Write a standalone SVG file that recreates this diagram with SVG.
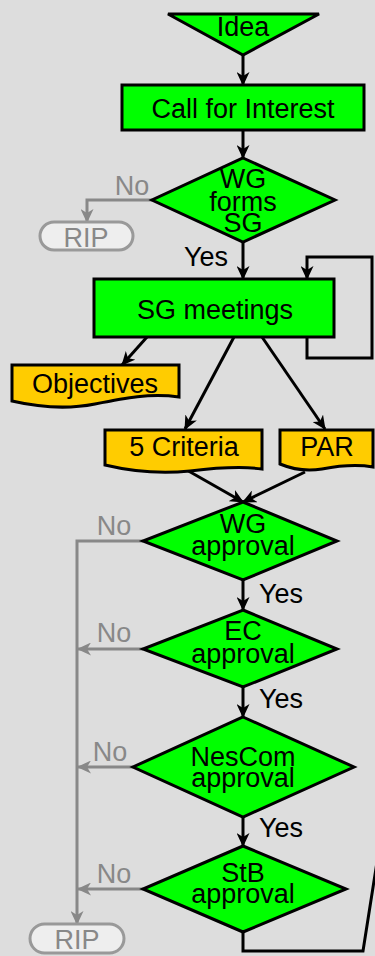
<svg xmlns="http://www.w3.org/2000/svg" width="375" height="956" viewBox="0 0 375 956">
<style>
text{font-family:"Liberation Sans",Arial,sans-serif;font-size:27px;text-anchor:middle;fill:#000}
.n{fill:#00ff00;stroke:#000;stroke-width:3}
.d{fill:#ffcc00;stroke:#000;stroke-width:3}
.c{fill:none;stroke:#000;stroke-width:3}
.g{fill:none;stroke:#888;stroke-width:3}
.gt{fill:#888}
.rip{fill:#eeeeee;stroke:#999;stroke-width:3}
</style>
<defs>
<marker id="a" markerUnits="userSpaceOnUse" markerWidth="14" markerHeight="13" viewBox="0 0 14 13" refX="13" refY="6.5" orient="auto"><path d="M0,0 L14,6.5 L0,13 L4,6.5 z" fill="#000"/></marker>
<marker id="ag" markerUnits="userSpaceOnUse" markerWidth="14" markerHeight="13" viewBox="0 0 14 13" refX="13" refY="6.5" orient="auto"><path d="M0,0 L14,6.5 L0,13 L4,6.5 z" fill="#888"/></marker>
</defs>
<rect width="375" height="956" fill="#dddddd"/>
<g id="connectors">
<path class="c" d="M243,55 V85" marker-end="url(#a)"/>
<path class="c" d="M243,130 V158" marker-end="url(#a)"/>
<path class="g" d="M152,200 H87 V222" marker-end="url(#ag)"/>
<text class="gt" x="132" y="195">No</text>
<path class="c" d="M243,242 V279" marker-end="url(#a)"/>
<text x="206" y="266">Yes</text>
<path class="c" d="M307,337 V358 H372 V257 H307 V279" marker-end="url(#a)"/>
<path class="c" d="M147,337 L122,365" marker-end="url(#a)"/>
<path class="c" d="M234,337 L185,429" marker-end="url(#a)"/>
<path class="c" d="M262,337 L325,429" marker-end="url(#a)"/>
<path class="c" d="M185,469 L243,502" marker-end="url(#a)"/>
<path class="c" d="M305,472 L243,502" marker-end="url(#a)"/>
<path class="g" d="M143,541 H77 V924" marker-end="url(#ag)"/>
<text class="gt" x="114" y="535">No</text>
<path class="c" d="M243,580 V610" marker-end="url(#a)"/>
<text x="281" y="603">Yes</text>
<path class="g" d="M143,649 H78" marker-end="url(#ag)"/>
<text class="gt" x="114" y="642">No</text>
<path class="c" d="M243,687 V717" marker-end="url(#a)"/>
<text x="281" y="708">Yes</text>
<path class="g" d="M133,767 H78" marker-end="url(#ag)"/>
<text class="gt" x="110" y="761">No</text>
<path class="c" d="M243,817 V846" marker-end="url(#a)"/>
<text x="281" y="837">Yes</text>
<path class="g" d="M143,889 H78" marker-end="url(#ag)"/>
<text class="gt" x="114" y="883">No</text>
<path class="c" d="M243,932 V951 H363 L377,862"/>
</g>
<g id="idea">
<polygon class="n" points="168,14 319,14 243,55"/>
<text x="243" y="36">Idea</text>
</g>
<g id="cfi">
<rect class="n" x="122" y="85" width="242" height="45"/>
<text x="243" y="118">Call for Interest</text>
</g>
<g id="wgforms">
<polygon class="n" points="243,158 335,200 243,242 152,200"/>
<text x="243" y="188">WG</text>
<text x="243" y="211">forms</text>
<text x="243" y="232">SG</text>
</g>
<g id="rip1">
<rect class="rip" x="40" y="222" width="93" height="28" rx="14"/>
<text class="gt" x="86" y="247">RIP</text>
</g>
<g id="sgmeet">
<rect class="n" x="94" y="279" width="240" height="58"/>
<text x="215" y="319">SG meetings</text>
</g>
<g id="objectives">
<path class="d" d="M12,365 H179 V397 C150,393 125,398 95,404 C65,410 38,407 12,401 Z"/>
<text x="95" y="393">Objectives</text>
</g>
<g id="criteria">
<path class="d" d="M105,430 H262 V469 C240,466 215,468 190,471 C160,474 130,471 105,465 Z"/>
<text x="184" y="456">5 Criteria</text>
</g>
<g id="par">
<path class="d" d="M280,430 H373 V467 C355,464 338,466 322,469 C305,472 292,469 280,464 Z"/>
<text x="327" y="456">PAR</text>
</g>
<g id="wgappr">
<polygon class="n" points="243,502 337,541 243,580 143,541"/>
<text x="243" y="533">WG</text>
<text x="243" y="555">approval</text>
</g>
<g id="ecappr">
<polygon class="n" points="243,610 337,649 243,687 143,649"/>
<text x="243" y="640">EC</text>
<text x="243" y="663">approval</text>
</g>
<g id="nescom">
<polygon class="n" points="243,717 354,767 243,817 133,767"/>
<text x="243" y="766">NesCom</text>
<text x="243" y="787">approval</text>
</g>
<g id="stb">
<polygon class="n" points="243,846 346,889 243,932 143,889"/>
<text x="243" y="882">StB</text>
<text x="243" y="903">approval</text>
</g>
<g id="rip2">
<rect class="rip" x="30" y="924" width="94" height="29" rx="14.5"/>
<text class="gt" x="77" y="949">RIP</text>
</g>
</svg>
